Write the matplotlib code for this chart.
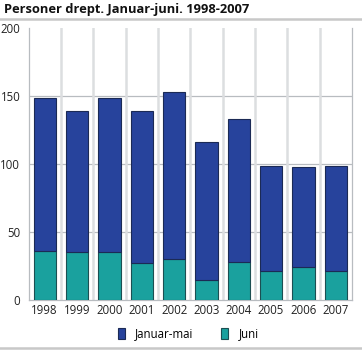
import numpy as np
import matplotlib
matplotlib.use("Agg")
import matplotlib.pyplot as plt
from matplotlib.lines import Line2D

plt.rcParams['font.family'] = ['Open Sans', 'DejaVu Sans']

years = ['1998', '1999', '2000', '2001', '2002', '2003', '2004', '2005', '2006', '2007']
juni = [36, 35, 35, 27, 30, 15, 28, 21, 24, 21]
jan_mai = [113, 104, 114, 112, 123, 101, 105, 78, 74, 78]

blue = '#27439c'
teal = '#1aa19e'

fig = plt.figure(figsize=(3.62, 3.50), dpi=100)
ax = fig.add_axes([0.079, 0.143, 0.893, 0.776])

x = np.arange(len(years))
ax.bar(x, juni, width=0.69, color=teal, edgecolor='#1c4f52', linewidth=0.8,
       label='Juni', zorder=3)
ax.bar(x, jan_mai, bottom=juni, width=0.69, color=blue, edgecolor='#1b2a55',
       linewidth=0.8, label='Januar-mai', zorder=3)

ax.set_xlim(-0.5, len(years) - 0.5)
ax.set_ylim(0, 200)
ax.set_yticks([0, 50, 100, 150, 200])
ax.set_xticks(x)
ax.set_xticklabels(years)
ax.tick_params(axis='both', labelsize=8.3, colors='#222222', length=0, pad=3)
ax.tick_params(axis='y', pad=6)

# horizontal grid, vertical separators between years
for yv in [50, 100, 150]:
    ax.axhline(yv, color='#b8bcc0', linewidth=0.9, zorder=1)
for xv in np.arange(0.5, len(years) - 0.5):
    ax.axvline(xv, color='#dcdee0', linewidth=1.8, zorder=1)

for side in ['left', 'right', 'bottom']:
    ax.spines[side].set_color('#b8bcc0')
    ax.spines[side].set_linewidth(0.9)
ax.spines['top'].set_visible(False)

handles = [
    plt.Rectangle((0, 0), 1, 1, facecolor=blue, edgecolor='#1b2a55', linewidth=0.8),
    plt.Rectangle((0, 0), 1, 1, facecolor=teal, edgecolor='#1c4f52', linewidth=0.8),
]
fig.legend(handles, ['Januar-mai', 'Juni'], loc='center', bbox_to_anchor=(0.52, 0.046),
           ncol=2, frameon=False, fontsize=8.3, handlelength=0.6, handleheight=1.2,
           columnspacing=2.4, handletextpad=0.9)

fig.text(0.01, 0.972, 'Personer drept. Januar-juni. 1998-2007', fontsize=9.3,
         fontweight='bold', va='center', ha='left', color='#111111')
fig.add_artist(Line2D([0, 1], [0.947, 0.947], color='#c8c8c8', linewidth=1.8))
fig.add_artist(Line2D([0, 1], [0.006, 0.006], color='#c8c8c8', linewidth=1.8))

fig.savefig('out.png', dpi=100)
